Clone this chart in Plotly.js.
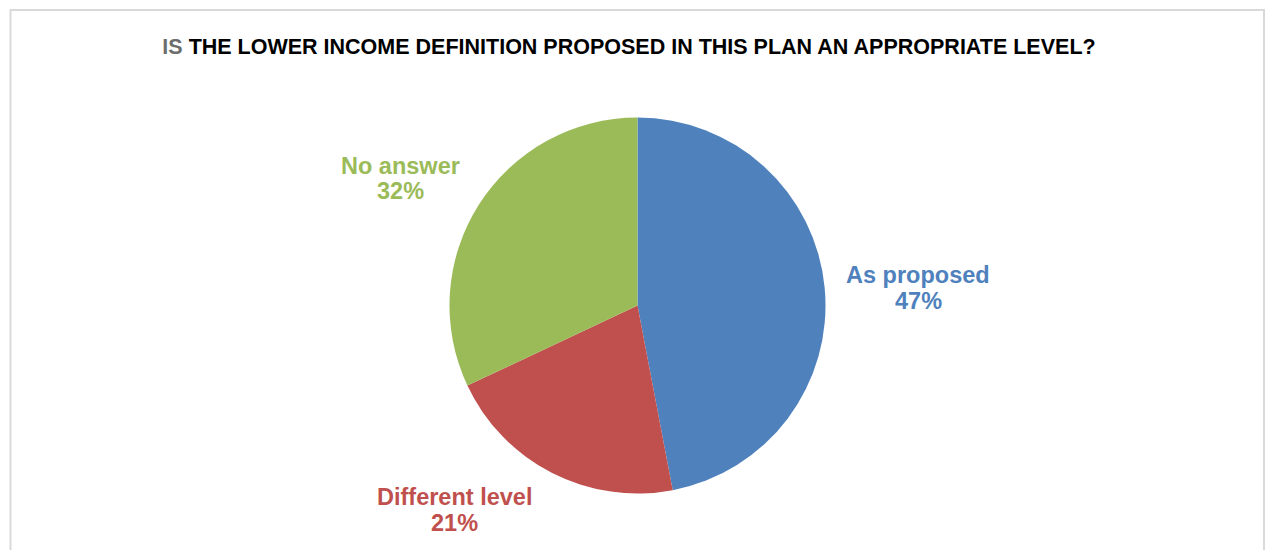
<!DOCTYPE html>
<html>
<head>
<meta charset="utf-8">
<script src="https://cdn.plot.ly/plotly-3.0.1.min.js"></script>
<style>html,body{margin:0;padding:0;background:#fff;}#chart{width:1266px;height:550px;}</style>
</head>
<body>
<div id="chart"></div>
<script>
const categories = ["As proposed", "Different level", "No answer"];
const values = [47, 21, 32];
const colors = ["#4F81BD", "#C0504D", "#9BBB59"];
const percentLabels = ["47%", "21%", "32%"];
const titleLead = "IS";
const titleRest = "THE LOWER INCOME DEFINITION PROPOSED IN THIS PLAN AN APPROPRIATE LEVEL?";

// label placement (paper px) for each category: [x center, y of first line]
const labelPos = [[918, 275], [455, 497], [401, 166]];
const W = 1266, H = 550;
const FONT = "Liberation Sans, Arial, sans-serif";

const annotations = [];
categories.forEach((c, i) => {
  const [px, py] = labelPos[i];
  annotations.push({
    xref: "paper", yref: "paper", x: px / W, y: 1 - py / H,
    xanchor: "center", yanchor: "middle", showarrow: false,
    text: "<b>" + c + "</b>",
    font: {family: FONT, size: 23.5, color: colors[i]}
  });
  annotations.push({
    xref: "paper", yref: "paper", x: px / W, y: 1 - (py + 25.5) / H,
    xanchor: "center", yanchor: "middle", showarrow: false,
    text: "<b>" + percentLabels[i] + "</b>",
    font: {family: FONT, size: 23.5, color: colors[i]}
  });
});

const cx = 637.5, cy = 305.5, r = 188;
const data = [{
  type: "pie",
  labels: categories,
  values: values,
  sort: false,
  direction: "clockwise",
  rotation: 0,
  marker: {colors: colors, line: {width: 0}},
  textinfo: "none",
  hoverinfo: "label+percent",
  showlegend: false,
  domain: {x: [(cx - r) / W, (cx + r) / W], y: [1 - (cy + r) / H, 1 - (cy - r) / H]}
}];

const layout = {
  width: W, height: H,
  margin: {l: 0, r: 0, t: 0, b: 0},
  paper_bgcolor: "#ffffff",
  plot_bgcolor: "#ffffff",
  title: {
    text: '<b><span style="color:#6d6d6d">' + titleLead + '</span> ' + titleRest + '</b>',
    font: {family: FONT, size: 21.5, color: "#000000"},
    x: 629 / W, xanchor: "center",
    y: 1 - 46 / H, yanchor: "middle",
    xref: "paper", yref: "paper"
  },
  annotations: annotations,
  shapes: [{
    type: "rect", xref: "paper", yref: "paper",
    x0: 10.5 / W, x1: 1264 / W, y0: -0.2, y1: 1 - 10 / H,
    line: {color: "#d9d9d9", width: 2}, fillcolor: "rgba(0,0,0,0)", layer: "below"
  }]
};

Plotly.newPlot("chart", data, layout, {displayModeBar: false, staticPlot: true});
</script>
</body>
</html>
